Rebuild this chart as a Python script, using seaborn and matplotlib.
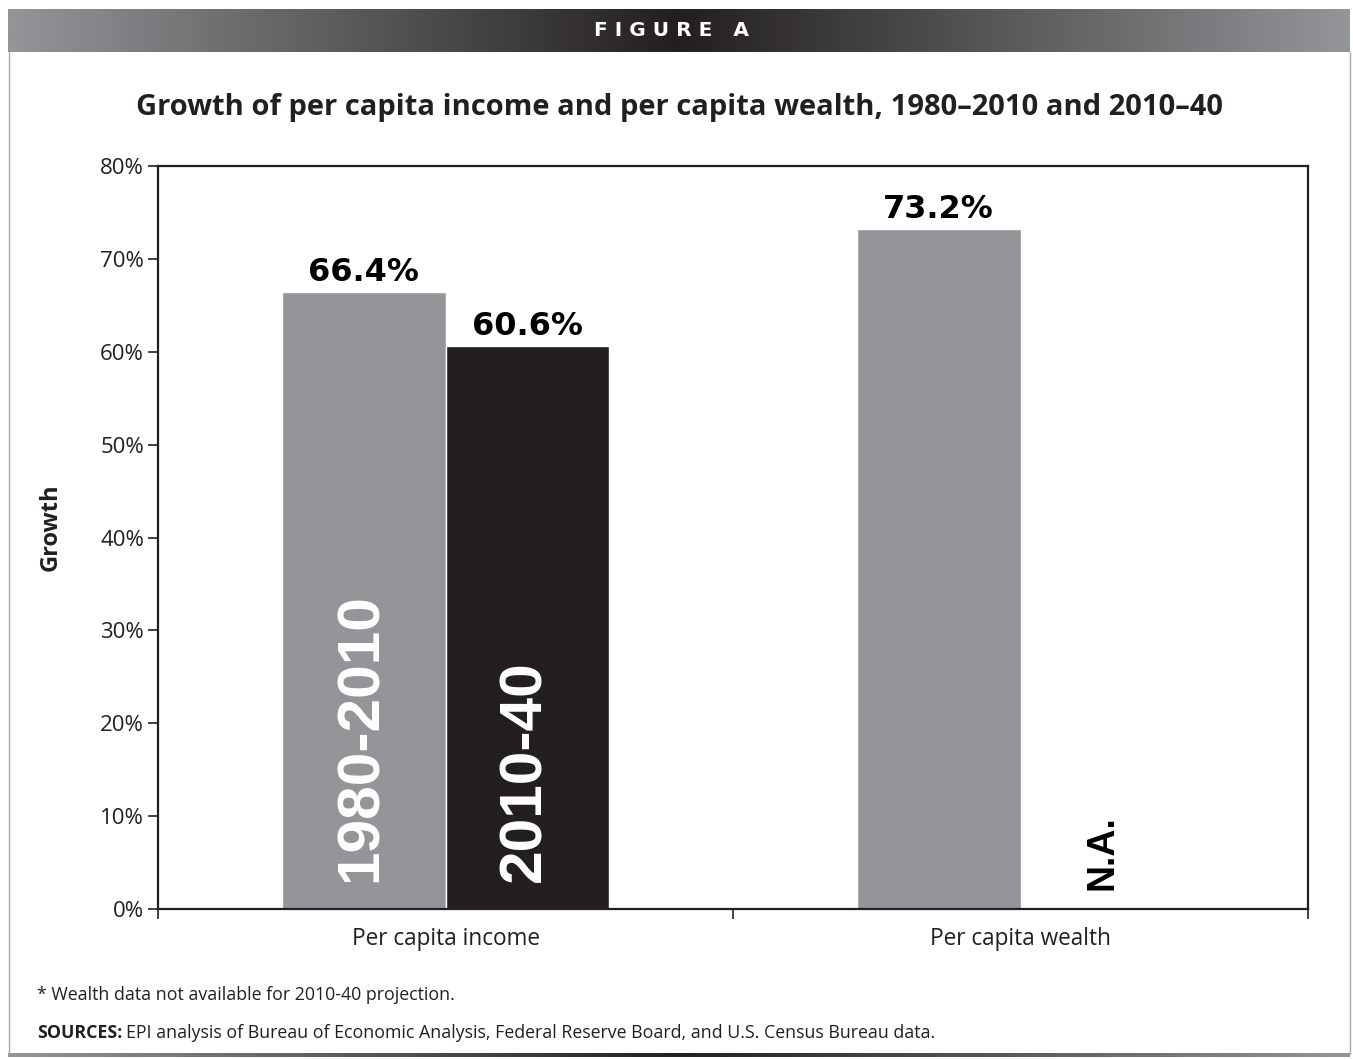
import numpy as np
import pandas as pd
import matplotlib.pyplot as plt
import seaborn as sns
from matplotlib.colors import LinearSegmentedColormap
from matplotlib.lines import Line2D

# data
categories = ['Per capita income', 'Per capita wealth']
periods = ['1980-2010', '2010-40']
growth_1980_2010 = [66.4, 73.2]
growth_2010_40 = [60.6, np.nan]   # wealth not available
yticks = [0, 10, 20, 30, 40, 50, 60, 70, 80]

df = pd.DataFrame({
    'category': categories * 2,
    'period': [periods[0]] * 2 + [periods[1]] * 2,
    'growth': growth_1980_2010 + growth_2010_40,
})

GREY = '#939598'
DARK = '#231f20'

sns.set_theme(style='white')
plt.rcParams['font.family'] = ['Open Sans', 'DejaVu Sans']

W, H = 1353, 1059
fig = plt.figure(figsize=(W / 100, H / 100), dpi=100)
fig.patch.set_facecolor('white')

# header band with gradient
cmap = LinearSegmentedColormap.from_list('band', [GREY, DARK, GREY])
grad = np.linspace(0, 1, 512).reshape(1, -1)
hax = fig.add_axes([8 / W, 1 - 52 / H, 1342 / W, 43 / H])
hax.imshow(grad, cmap=cmap, aspect='auto')
hax.set_axis_off()
fig.text(672 / W, 1 - 31 / H, 'F I G U R E   A', color='white', fontsize=14.5,
         fontweight='bold', family='DejaVu Sans', ha='center', va='center')

# bottom strip
bax = fig.add_axes([8 / W, 1 - 1057 / H, 1342 / W, 4 / H])
bax.imshow(grad, cmap=cmap, aspect='auto')
bax.set_axis_off()

# side borders
for xp in (8.5, 1349.5):
    fig.add_artist(Line2D([xp / W, xp / W], [1 - 52 / H, 1 - 1054 / H],
                          transform=fig.transFigure, color='#a7a9ac', lw=1))

ax = fig.add_axes([158 / W, 1 - 909 / H, 1150 / W, 743 / H])
sns.barplot(data=df, x='category', y='growth', hue='period', order=categories,
            hue_order=periods, palette=[GREY, DARK], width=0.57, saturation=1,
            legend=False, ax=ax)

ax.set_ylim(0, 80)
ax.set_xlim(-0.5, 1.5)
ax.set_yticks(yticks)
ax.set_yticklabels([f'{v}%' for v in yticks], fontsize=16, color='#231f20')
ax.set_xticks([0, 1])
ax.set_xticklabels(categories, fontsize=16.3, color='#231f20')
ax.set_xticks([-0.5, 0.5, 1.5], minor=True)
ax.tick_params(axis='x', which='major', length=0, pad=13)
ax.tick_params(axis='x', which='minor', length=7, width=1.2, color='#231f20', bottom=True)
ax.tick_params(axis='y', length=7, width=1.2, color='#231f20', pad=3, left=True)
ax.set_xlabel('')
ax.set_ylabel('Growth', fontsize=17, fontweight='bold', color='#231f20')
ax.yaxis.set_label_coords(-0.083, 0.514)
for s in ax.spines.values():
    s.set_visible(True)
    s.set_color('#231f20')
    s.set_linewidth(1.6)

# value labels
for cont in ax.containers:
    ax.bar_label(cont, fmt='%.1f%%', padding=3, fontsize=23, fontweight='bold',
                 family='DejaVu Sans', color='black')

# period names inside the income bars
for cont, name in zip(ax.containers, periods):
    p = cont.patches[0]
    ax.text(p.get_x() + p.get_width() / 2 - 0.004, 2.9, name, rotation=90, ha='center',
            va='bottom', color='white', fontsize=43.5, fontweight='bold',
            family='Liberation Sans')

# N.A. for missing wealth projection
p = ax.containers[1].patches[0]
ax.text(p.get_x() + p.get_width() / 2 + 1, 2.0, 'N.A.', rotation=90, ha='center',
        va='bottom', color='black', fontsize=27, fontweight='bold',
        family='Liberation Sans')

fig.text(680 / W, 1 - 108 / H,
         'Growth of per capita income and per capita wealth, 1980\u20132010 and 2010\u201340',
         ha='center', va='center', fontsize=21, fontweight='bold', color='#231f20')

# footnotes
fig.text(37 / W, 1 - 995 / H, '* Wealth data not available for 2010-40 projection.',
         ha='left', va='center', fontsize=12.8, color='#231f20')
src = fig.text(37 / W, 1 - 1033 / H, 'SOURCES:', ha='left', va='center',
               fontsize=12.8, fontweight='bold', color='#231f20')
r = fig.canvas.get_renderer()
bb = src.get_window_extent(renderer=r)
fig.text((bb.x1 + 4) / W, 1 - 1033 / H,
         'EPI analysis of Bureau of Economic Analysis, Federal Reserve Board, and U.S. Census Bureau data.',
         ha='left', va='center', fontsize=12.8, color='#231f20')

fig.savefig('out.png', dpi=100)
